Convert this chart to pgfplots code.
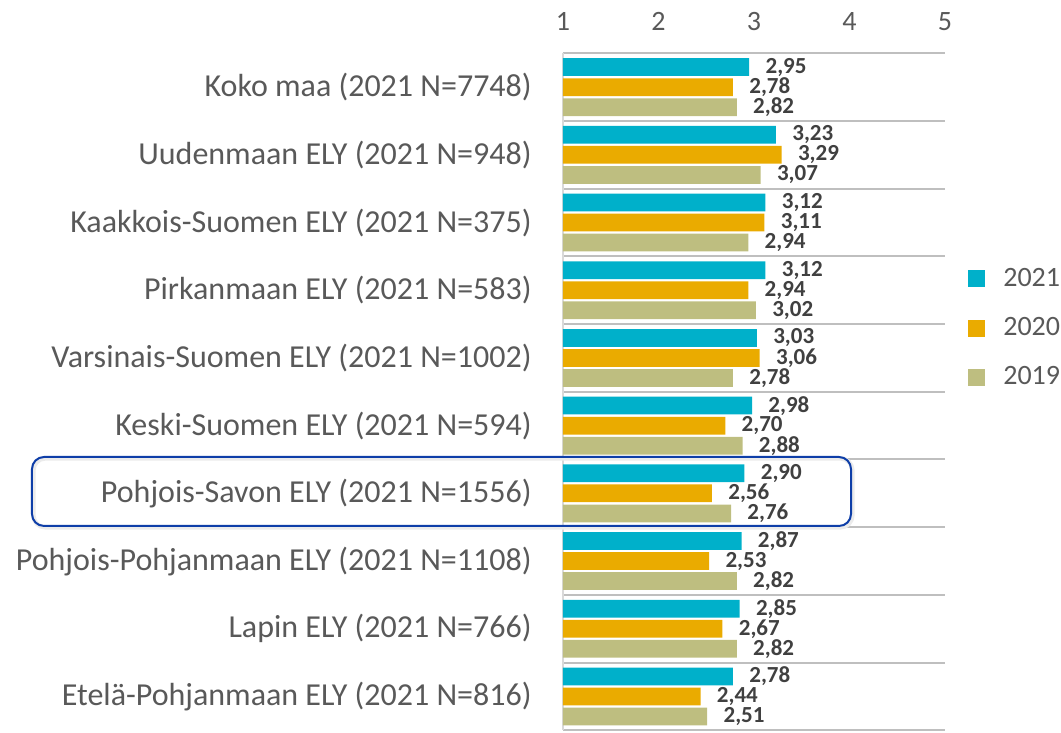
\documentclass[border=0pt]{standalone}
\usepackage{fontspec}
\setmainfont{Carlito}
\usepackage{pgfplots}
\pgfplotsset{compat=1.18}
\usetikzlibrary{calc}
\definecolor{C21}{RGB}{0,176,202}
\definecolor{C20}{RGB}{234,171,0}
\definecolor{C19}{RGB}{190,190,128}
\definecolor{TXT}{RGB}{89,89,89}
\definecolor{LBL}{RGB}{64,64,64}
\definecolor{SEP}{RGB}{191,191,191}
\definecolor{VAX}{RGB}{217,217,217}
\definecolor{HBOX}{RGB}{14,62,168}

\pgfplotstableread{
idx v21 v20 v19
0 2.95 2.78 2.82
1 3.23 3.29 3.07
2 3.12 3.11 2.94
3 3.12 2.94 3.02
4 3.03 3.06 2.78
5 2.98 2.70 2.88
6 2.90 2.56 2.76
7 2.87 2.53 2.82
8 2.85 2.67 2.82
9 2.78 2.44 2.51
}\datatable

% one group is 338.5pt/10 = 33.85pt tall, bars 0.296 of it apart
\pgfplotsset{
  bars/.style={xbar, bar width=0.262, draw=none, forget plot, point meta=x,
    nodes near coords={\pgfmathprintnumber[fixed,fixed zerofill,precision=2,use comma,assume math mode=true]{\pgfplotspointmeta}},
    every node near coord/.append style={font=\fontsize{11.5}{12}\selectfont\bfseries,
      color=LBL, inner sep=0pt, anchor=west, xshift=8pt, yshift=#1}},
  sq/.style={legend image code/.code={\fill[##1] (0pt,-4.25pt) rectangle (8.5pt,4.25pt);}},
}

\begin{document}
\begin{tikzpicture}
\begin{axis}[
  scale only axis,
  width=191pt, height=338.5pt,
  xmin=1, xmax=5, ymin=-0.5, ymax=9.5,
  y dir=reverse,
  axis x line*=top, axis y line*=left,
  x axis line style={draw=SEP, line width=1pt, -},
  y axis line style={draw=VAX, line width=1pt, -},
  xtick={1,2,3,4,5},
  ytick={0,...,9},
  yticklabels={
    Koko maa (2021 N=7748),
    Uudenmaan ELY (2021 N=948),
    Kaakkois-Suomen ELY (2021 N=375),
    Pirkanmaan ELY (2021 N=583),
    Varsinais-Suomen ELY (2021 N=1002),
    Keski-Suomen ELY (2021 N=594),
    Pohjois-Savon ELY (2021 N=1556),
    Pohjois-Pohjanmaan ELY (2021 N=1108),
    Lapin ELY (2021 N=766),
    Etelä-Pohjanmaan ELY (2021 N=816)},
  minor ytick={-0.5,0.5,...,9.5},
  yminorgrids=true,
  minor grid style={draw=SEP, line width=1pt},
  major tick length=0pt, minor tick length=0pt,
  tick style={draw=none},
  /pgf/number format/assume math mode=true,
  x tick label style={font=\fontsize{14}{16}\selectfont, color=TXT, inner sep=0pt, yshift=11pt},
  y tick label style={font=\fontsize{16}{18}\selectfont, color=TXT, inner sep=0pt, xshift=-15.5pt},
  legend style={at={(1.06,0.594)}, anchor=west, draw=none, fill=none, inner sep=0pt,
    font=\fontsize{14}{16}\selectfont, text=TXT, row sep=10pt, column sep=7pt},
  legend cell align=left,
]
\addplot[bars=10pt, fill=C21, bar shift=-0.296] table[x=v21, y=idx] {\datatable};
\addplot[bars=0pt, fill=C20, bar shift=0] table[x=v20, y=idx] {\datatable};
\addplot[bars=-10pt, fill=C19, bar shift=0.296] table[x=v19, y=idx] {\datatable};
\addlegendimage{sq, fill=C21, draw=none}
\addlegendentry{2021}
\addlegendimage{sq, fill=C20, draw=none}
\addlegendentry{2020}
\addlegendimage{sq, fill=C19, draw=none}
\addlegendentry{2019}
\coordinate (tl) at (axis cs:1,-0.5);
\coordinate (br) at (axis cs:5,9.5);
\coordinate (hb1) at (axis cs:1,5.463);
\coordinate (hb2) at (axis cs:4.016,6.482);
\end{axis}
\draw[black!8, line width=2.2pt, rounded corners=6pt]
  ($(hb1)+(-264.8pt,-0.7pt)$) rectangle ($(hb2)+(0.7pt,-0.7pt)$);
\draw[HBOX, line width=1pt, rounded corners=6pt]
  ($(hb1)+(-265.5pt,0)$) rectangle (hb2);
\pgfresetboundingbox
\path[use as bounding box] ($(tl)+(-281.5pt,26.65pt)$) rectangle ($(br)+(58pt,-1pt)$);
\end{tikzpicture}
\end{document}
